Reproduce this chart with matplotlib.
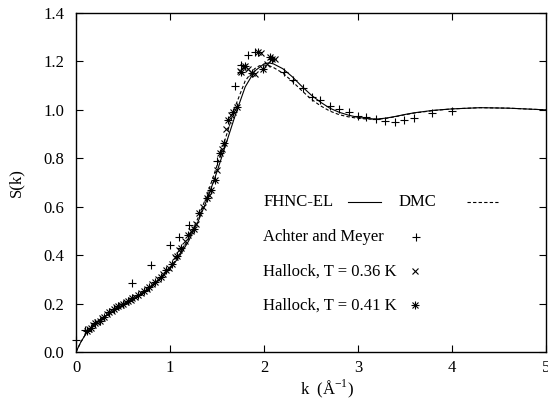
import matplotlib
matplotlib.use("Agg")
import matplotlib.pyplot as plt
import numpy as np

plt.rcParams['font.family'] = ['Liberation Serif', 'DejaVu Serif']

# FHNC-EL (solid) and DMC (dashed) curves
k_fhnc = [0.0, 0.05, 0.1, 0.15, 0.2, 0.3, 0.4, 0.5, 0.6, 0.7, 0.8, 0.9, 1.0, 1.1, 1.2,
          1.3, 1.4, 1.5, 1.6, 1.7, 1.8, 1.9, 2.0, 2.05, 2.1, 2.2, 2.3, 2.4, 2.5, 2.6,
          2.7, 2.8, 2.9, 3.0, 3.1, 3.2, 3.3, 3.4, 3.5, 3.6, 3.8, 4.0, 4.3, 4.6, 5.0]
s_fhnc = [0.0, 0.04, 0.072, 0.098, 0.118, 0.145, 0.168, 0.19, 0.213, 0.238, 0.267, 0.302,
          0.343, 0.395, 0.46, 0.54, 0.635, 0.745, 0.865, 0.985, 1.095, 1.16, 1.19, 1.194,
          1.19, 1.17, 1.137, 1.098, 1.062, 1.032, 1.007, 0.99, 0.978, 0.969, 0.964, 0.962,
          0.966, 0.973, 0.981, 0.988, 0.998, 1.004, 1.009, 1.007, 1.0]
k_dmc = [0.0, 0.05, 0.1, 0.15, 0.2, 0.3, 0.4, 0.5, 0.6, 0.7, 0.8, 0.9, 1.0, 1.1, 1.2,
         1.3, 1.4, 1.5, 1.6, 1.7, 1.8, 1.9, 1.95, 2.0, 2.05, 2.1, 2.2, 2.3, 2.4, 2.5, 2.6,
         2.7, 2.8, 2.9, 3.0, 3.1, 3.2, 3.3, 3.4, 3.5, 3.6, 3.8, 4.0, 4.3, 4.6, 5.0]
s_dmc = [0.0, 0.04, 0.072, 0.098, 0.118, 0.145, 0.168, 0.19, 0.213, 0.238, 0.268, 0.304,
         0.347, 0.402, 0.47, 0.555, 0.655, 0.77, 0.895, 1.02, 1.12, 1.17, 1.182, 1.185,
         1.183, 1.175, 1.152, 1.118, 1.08, 1.045, 1.017, 0.995, 0.98, 0.971, 0.965, 0.962,
         0.961, 0.965, 0.972, 0.98, 0.987, 0.997, 1.004, 1.009, 1.007, 1.0]

# Achter and Meyer
k_am = [0.0, 0.1, 0.6, 0.8, 1.0, 1.1, 1.2, 1.5, 1.69, 1.76, 1.83, 1.9, 2.21, 2.31,
        2.41, 2.51, 2.6, 2.7, 2.8, 2.9, 3.0, 3.09, 3.19, 3.29, 3.39, 3.49, 3.6, 3.79, 4.0]
s_am = [0.048, 0.09, 0.284, 0.36, 0.44, 0.476, 0.525, 0.79, 1.1, 1.185, 1.227, 1.24,
        1.158, 1.124, 1.09, 1.055, 1.04, 1.016, 1.002, 0.99, 0.976, 0.972, 0.961, 0.955,
        0.951, 0.958, 0.968, 0.986, 0.995]

# Hallock T = 0.36 K
k_h36 = [0.14, 0.18, 0.22, 0.28, 0.33, 0.38, 0.43, 0.48, 0.53, 0.58, 0.63, 0.69, 0.75,
         0.81, 0.87, 0.93, 0.99, 1.05, 1.1, 1.16, 1.22, 1.28, 1.35, 1.42, 1.5, 1.55, 1.6,
         1.65, 1.74, 1.78, 1.83, 1.9, 1.97, 2.03, 2.12]
s_h36 = [0.095, 0.11, 0.125, 0.14, 0.158, 0.17, 0.185, 0.195, 0.205, 0.215, 0.228, 0.245,
         0.26, 0.28, 0.3, 0.322, 0.345, 0.393, 0.42, 0.46, 0.5, 0.53, 0.6, 0.65, 0.75,
         0.84, 0.92, 0.98, 1.16, 1.175, 1.17, 1.15, 1.235, 1.19, 1.21]

# Hallock T = 0.41 K
k_h41 = [0.12, 0.16, 0.2, 0.25, 0.3, 0.35, 0.4, 0.45, 0.5, 0.55, 0.6, 0.66, 0.72, 0.78,
         0.84, 0.9, 0.96, 1.02, 1.07, 1.12, 1.19, 1.25, 1.31, 1.39, 1.44, 1.48, 1.53,
         1.57, 1.62, 1.67, 1.71, 1.76, 1.8, 1.87, 1.94, 1.99, 2.06, 2.09]
s_h41 = [0.085, 0.1, 0.118, 0.13, 0.145, 0.165, 0.178, 0.19, 0.2, 0.21, 0.222, 0.237,
         0.252, 0.27, 0.29, 0.31, 0.338, 0.365, 0.395, 0.43, 0.483, 0.51, 0.572, 0.634,
         0.668, 0.71, 0.82, 0.862, 0.96, 0.992, 1.013, 1.158, 1.18, 1.154, 1.24, 1.168,
         1.22, 1.209]

fig = plt.figure(figsize=(5.48, 3.99), dpi=100)
ax = fig.add_axes([0.1387, 0.1178, 0.8577, 0.8496])

lw = 0.8
ms = 6
ax.plot(k_fhnc, s_fhnc, '-', color='black', lw=lw)
ax.plot(k_dmc, s_dmc, '--', color='black', lw=lw, dashes=(3, 2))
ax.plot(k_am, s_am, '+', color='black', ms=ms, mew=0.8, clip_on=False)
ax.plot(k_h36, s_h36, 'x', color='black', ms=ms * 0.8, mew=0.8)
ax.plot(k_h41, s_h41, '+', color='black', ms=ms, mew=0.8)
ax.plot(k_h41, s_h41, 'x', color='black', ms=ms * 0.8, mew=0.8)

# legend drawn by hand
fs = 12
ax.text(1.99, 0.619, 'FHNC-EL', fontsize=fs, va='center')
ax.plot([2.89, 3.24], [0.619, 0.619], '-', color='black', lw=lw)
ax.text(3.43, 0.619, 'DMC', fontsize=fs, va='center')
ax.plot([4.16, 4.49], [0.619, 0.619], '--', color='black', lw=lw, dashes=(3, 2))
ax.text(1.99, 0.474, 'Achter and Meyer', fontsize=fs, va='center')
ax.plot([3.62], [0.474], '+', color='black', ms=ms, mew=0.8)
ax.text(1.99, 0.333, 'Hallock, T = 0.36 K', fontsize=fs, va='center')
ax.plot([3.61], [0.333], 'x', color='black', ms=ms * 0.8, mew=0.8)
ax.text(1.99, 0.193, 'Hallock, T = 0.41 K', fontsize=fs, va='center')
ax.plot([3.61], [0.193], '+', color='black', ms=ms, mew=0.8)
ax.plot([3.61], [0.193], 'x', color='black', ms=ms * 0.8, mew=0.8)

ax.set_xlim(0, 5)
ax.set_ylim(0, 1.4)
ax.set_xticks([0, 1, 2, 3, 4, 5])
ax.set_yticks([0.0, 0.2, 0.4, 0.6, 0.8, 1.0, 1.2, 1.4])
ax.set_yticklabels(['0.0', '0.2', '0.4', '0.6', '0.8', '1.0', '1.2', '1.4'])
ax.tick_params(direction='in', top=True, right=True, length=5, width=0.8, labelsize=fs)
ax.tick_params(axis='x', pad=6)
ax.tick_params(axis='y', pad=8.5)
for sp in ax.spines.values():
    sp.set_linewidth(1.0)

ax.set_xlabel(r'k  (Å$^{\mathregular{-1}}$)', fontsize=fs, labelpad=0)
ax.xaxis.set_label_coords(0.535, -0.075)
ax.set_ylabel('S(k)', fontsize=fs)
ax.yaxis.set_label_coords(-0.111, 0.5)

fig.savefig('out.png', dpi=100)
